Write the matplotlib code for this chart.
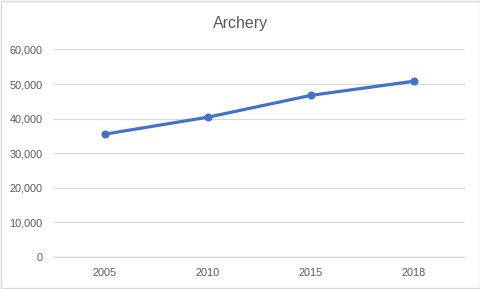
import matplotlib
matplotlib.use("Agg")
import matplotlib.pyplot as plt
from matplotlib.patches import Rectangle

# ── Data ──────────────────────────────────────────────
years = ["2005", "2010", "2015", "2018"]
participants = [35500, 40400, 46700, 50800]
y_ticks = [0, 10000, 20000, 30000, 40000, 50000, 60000]

plt.rcParams['font.family'] = ['Liberation Sans', 'DejaVu Sans']

fig = plt.figure(figsize=(4.81, 2.89), dpi=100)
ax = fig.add_axes([0.111, 0.111, 0.856, 0.718])

x = range(len(years))
ax.plot(x, participants, color='#4472C4', linewidth=2.3,
        marker='o', markersize=4.8, solid_capstyle='round', zorder=3)

ax.set_xlim(-0.5, len(years) - 0.5)
ax.set_ylim(0, 60000)
ax.set_yticks(y_ticks)
ax.set_yticklabels([f"{v:,}" for v in y_ticks])
ax.set_xticks(list(x))
ax.set_xticklabels(years)

ax.grid(axis='y', color='#D9D9D9', linewidth=0.9)
ax.set_axisbelow(True)
for s in ('top', 'right', 'left'):
    ax.spines[s].set_visible(False)
ax.spines['bottom'].set_color('#D9D9D9')
ax.spines['bottom'].set_linewidth(0.9)
ax.tick_params(length=0, labelsize=7.8, labelcolor='#595959')
ax.tick_params(axis='y', pad=8)
ax.tick_params(axis='x', pad=8)

fig.text(0.5, 0.92, "Archery", ha='center', va='center',
         fontsize=11.5, color='#595959')

fig.patches.append(Rectangle((0.002, 0.003), 0.996, 0.994, transform=fig.transFigure,
                             fill=False, edgecolor='#D9D9D9', linewidth=1))

fig.savefig("out.png", dpi=100)
